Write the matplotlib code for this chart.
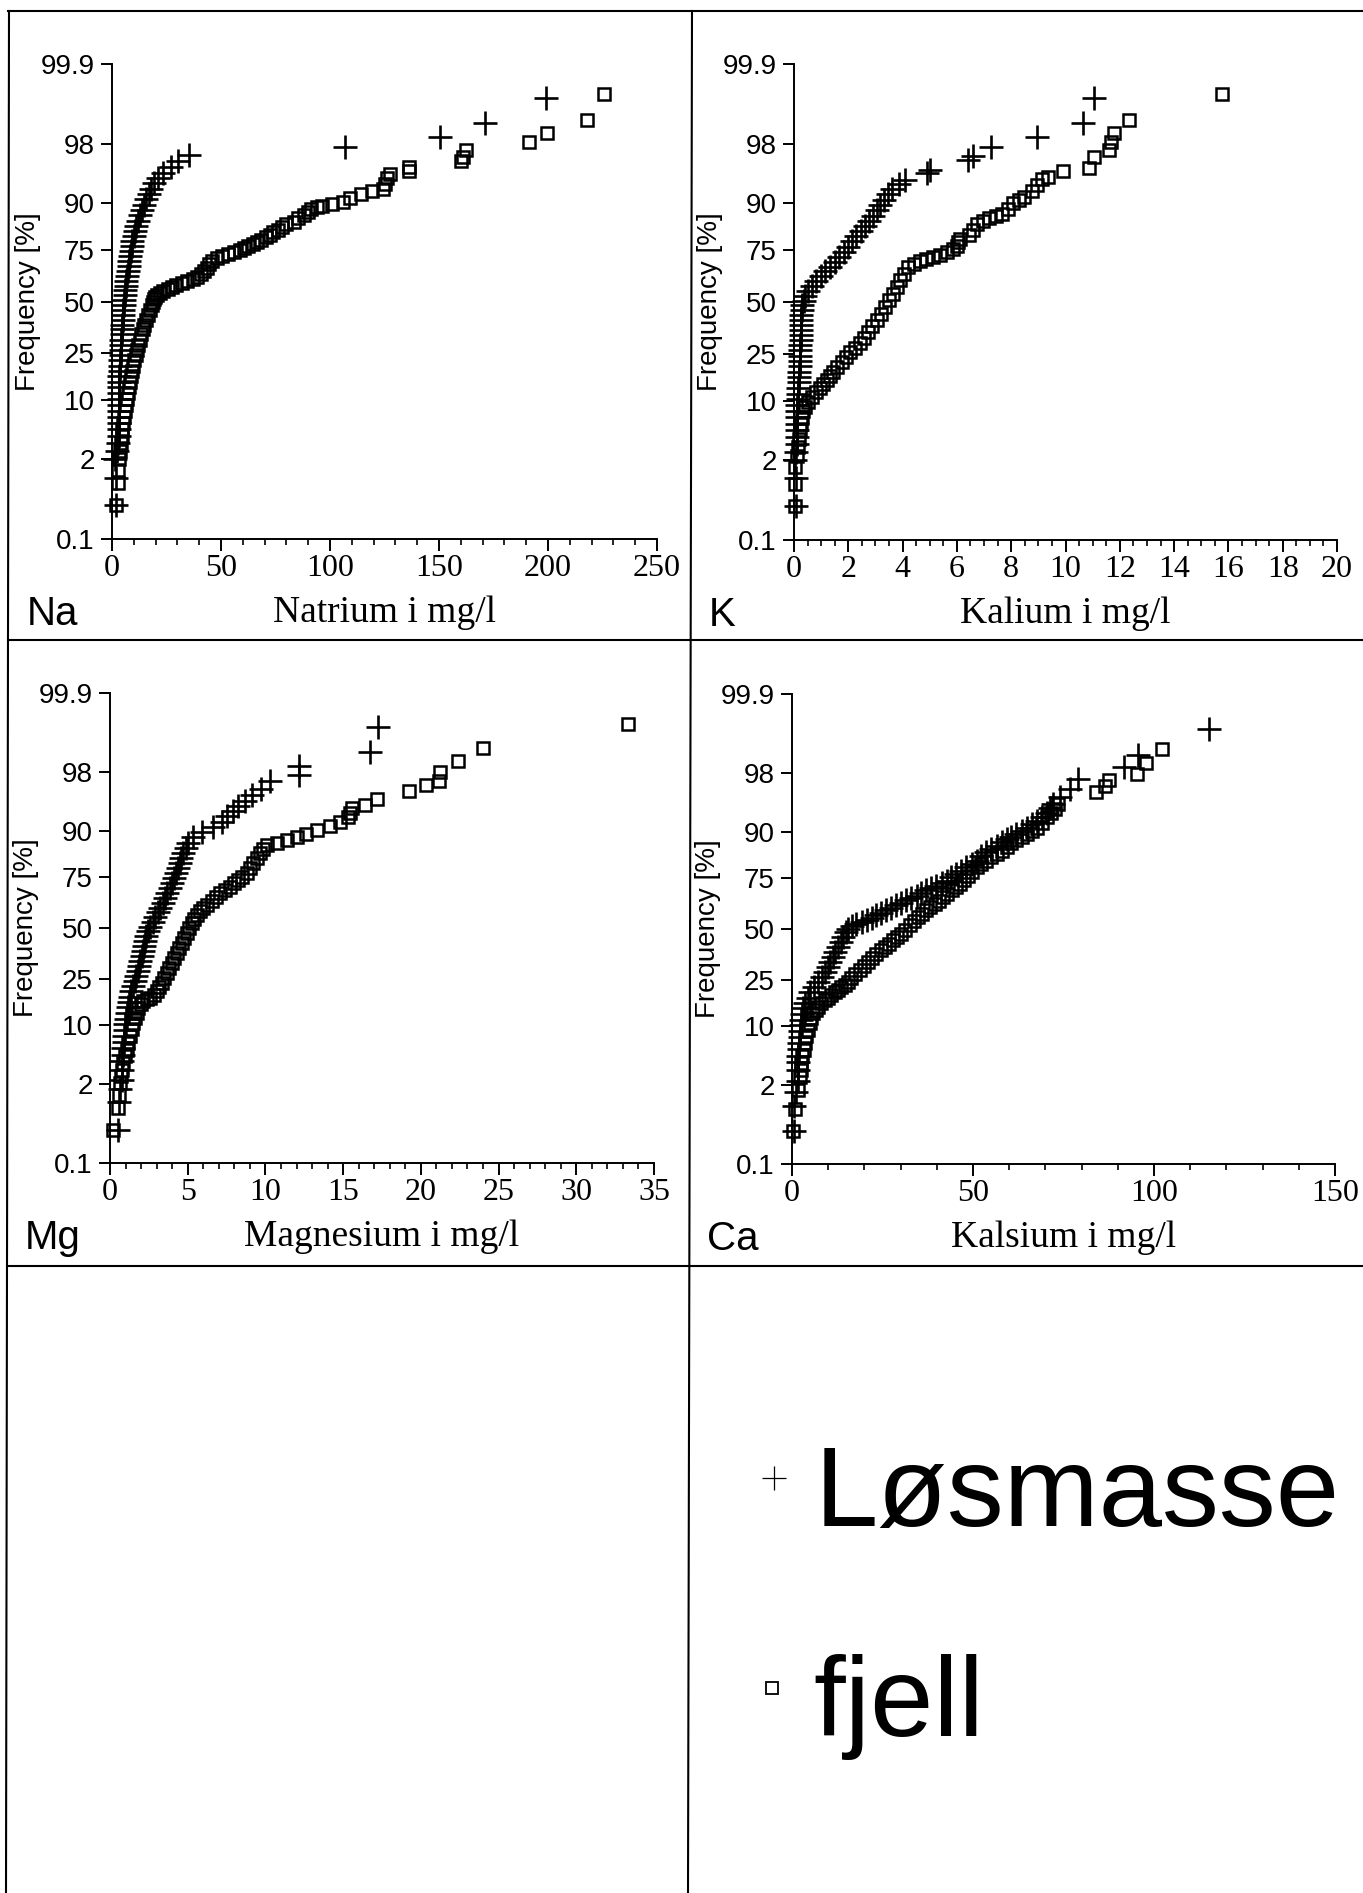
#!/usr/bin/env python3
"""
Normal probability plots of Na, K, Mg and Ca in groundwater,
loose deposits (Løsmasse, +) versus bedrock wells (fjell, squares).
"""

import math
import numpy as np
import matplotlib
matplotlib.use("Agg")
import matplotlib.pyplot as plt
from matplotlib.lines import Line2D
from matplotlib.ticker import FixedLocator, MultipleLocator, NullLocator
from matplotlib.transforms import offset_copy

# ---------------------------------------------------------------- data
# x = concentration (mg/l), p = cumulative frequency (%)

na_los_x = [2.0, 2.0, 1.6, 2.4, 2.8, 3.0, 3.1, 3.1, 3.1, 3.1,
            3.1, 3.2, 3.3, 3.3, 3.3, 3.4, 3.5, 3.6, 3.7, 3.9,
            4.0, 4.1, 4.2, 4.4, 4.5, 4.7, 4.9, 5.0, 5.2, 5.4,
            5.6, 5.9, 6.1, 6.4, 6.6, 6.9, 7.3, 7.7, 7.9, 8.4,
            8.8, 9.0, 9.4, 10.0, 10.6, 11.2, 12.0, 12.8, 13.7, 14.5,
            15.6, 16.8, 17.9, 19.4, 21.2, 23.6, 27.0, 30.5, 35.4,
            107.0, 150.4, 171.3, 199.0]
na_los_p = [0.4, 1.1, 2.0, 2.6, 3.3, 4.0, 4.8, 5.7, 6.7, 7.8,
            9.0, 10.3, 11.7, 13.2, 14.8, 16.5, 18.3, 20.2, 22.2, 24.3,
            26.5, 28.7, 31.0, 33.4, 35.8, 38.2, 40.7, 43.2, 45.7, 48.2,
            50.7, 53.2, 55.7, 58.2, 60.6, 63.0, 65.4, 67.7, 70.0, 72.2,
            74.3, 76.4, 78.4, 80.3, 82.1, 83.8, 85.4, 86.9, 88.3, 89.6,
            90.8, 91.9, 92.9, 93.8, 94.6, 95.3, 96.0, 96.6, 97.2,
            97.8, 98.4, 99.0, 99.6]

na_fje_x = [1.7, 2.8, 2.8, 3.3, 3.7, 4.0, 4.4, 4.8, 5.2, 5.6,
            6.0, 6.3, 6.7, 7.2, 7.7, 8.2, 8.7, 9.2, 9.8, 10.3,
            10.9, 11.6, 12.1, 12.8, 13.5, 14.2, 14.9, 15.8, 16.6, 17.4,
            18.3, 19.0, 19.3, 19.8, 20.6, 21.8, 23.4, 25.5, 27.3, 29.5,
            32.0, 34.5, 37.0, 39.0, 40.8, 42.0, 43.4, 44.5, 45.8, 48.0,
            50.5, 53.0, 55.8, 58.5, 60.5, 62.5, 64.5, 66.5, 68.5, 70.8,
            72.5, 74.0, 76.0, 78.0, 80.0, 83.5, 85.5, 88.0, 90.0, 91.5,
            94.0, 96.5, 101.0, 106.0, 109.0, 114.0, 119.2, 124.2, 125.0, 126.0,
            127.5, 136.3, 136.3, 160.0, 161.2, 162.6, 191.5, 199.5, 217.7, 225.8]
na_fje_p = [0.4, 0.9, 1.4, 2.0, 2.6, 3.3, 4.0, 4.8, 5.7, 6.7,
            7.8, 9.0, 10.3, 11.7, 13.2, 14.8, 16.5, 18.3, 20.2, 22.2,
            24.3, 26.5, 28.7, 31.0, 33.4, 35.8, 38.2, 40.7, 43.2, 45.7,
            48.2, 50.0, 51.5, 52.5, 53.5, 54.5, 55.5, 56.5, 57.5, 58.5,
            59.5, 60.5, 61.5, 62.5, 64.0, 65.5, 67.0, 68.5, 70.0, 71.3,
            72.3, 73.2, 74.0, 74.8, 75.6, 76.4, 77.2, 78.0, 78.9, 79.8,
            80.7, 81.6, 82.5, 83.4, 84.2, 85.0, 86.0, 86.9, 87.7, 88.5,
            89.0, 89.4, 89.7, 90.3, 91.1, 91.9, 92.4, 92.9, 93.7, 94.6,
            95.2, 95.5, 96.0, 96.6, 97.0, 97.6, 98.1, 98.6, 99.1, 99.65]

k_los_x = [0.06, 0.06, 0.03, 0.08, 0.10, 0.10, 0.10, 0.11, 0.12, 0.12,
           0.12, 0.13, 0.15, 0.16, 0.17, 0.18, 0.19, 0.21, 0.22, 0.22,
           0.22, 0.23, 0.24, 0.24, 0.25, 0.26, 0.27, 0.27, 0.28, 0.30,
           0.35, 0.42, 0.52, 0.66, 0.80, 0.98, 1.15, 1.32, 1.50, 1.66,
           1.83, 1.98, 2.15, 2.30, 2.45, 2.60, 2.78, 2.92, 3.05, 3.18,
           3.33, 3.48, 3.62, 3.85, 4.10, 4.90, 5.00, 6.40, 6.60, 7.27,
           8.95, 10.65, 11.05]
k_los_p = [0.4, 1.1, 2.0, 2.6, 3.3, 4.0, 4.8, 5.7, 6.7, 7.8,
           9.0, 10.3, 11.7, 13.2, 14.8, 16.5, 18.3, 20.2, 22.2, 24.3,
           26.5, 28.7, 31.0, 33.4, 35.8, 38.2, 40.7, 43.2, 45.7, 48.2,
           50.7, 53.2, 55.7, 58.2, 60.6, 63.0, 65.4, 67.7, 70.0, 72.2,
           74.3, 76.4, 78.4, 80.3, 82.1, 83.8, 85.4, 86.9, 88.3, 89.6,
           90.8, 91.9, 92.9, 93.8, 94.3, 95.3, 95.7, 96.7, 97.1, 97.8,
           98.4, 99.0, 99.6]

k_fje_x = [0.02, 0.03, 0.03, 0.10, 0.16, 0.19, 0.22, 0.25, 0.28, 0.34,
           0.40, 0.52, 0.65, 0.80, 0.96, 1.08, 1.20, 1.32, 1.45, 1.60,
           1.75, 1.90, 2.06, 2.25, 2.43, 2.58, 2.74, 2.89, 3.04, 3.20,
           3.35, 3.50, 3.66, 3.78, 3.90, 4.05, 4.21, 4.42, 4.64, 4.88,
           5.13, 5.38, 5.62, 5.85, 6.00, 6.05, 6.10, 6.45, 6.60, 6.75,
           6.95, 7.19, 7.45, 7.67, 7.87, 8.07, 8.27, 8.47, 8.75, 8.95,
           9.12, 9.36, 9.92, 10.88, 11.05, 11.60, 11.69, 11.77, 12.33, 15.78]
k_fje_p = [0.4, 0.9, 1.6, 2.3, 3.0, 3.8, 4.8, 5.7, 6.7, 7.8,
           8.7, 9.8, 10.9, 12.0, 13.1, 14.3, 15.5, 16.8, 18.2, 20.0,
           21.9, 23.9, 25.9, 27.7, 29.5, 32.2, 34.9, 37.7, 40.6, 43.9,
           47.4, 50.8, 54.3, 57.6, 61.0, 64.2, 67.5, 69.0, 70.5, 71.3,
           72.0, 73.0, 74.1, 75.4, 76.8, 78.2, 79.5, 80.7, 82.5, 84.4,
           85.3, 86.2, 86.8, 87.4, 88.7, 90.0, 90.7, 91.3, 92.5, 93.6,
           94.5, 94.8, 95.5, 95.9, 97.0, 97.6, 98.1, 98.6, 99.1, 99.65]

mg_los_x = [0.54, 0.56, 0.64, 0.75, 0.75, 0.79, 0.83, 0.86, 0.88, 0.90,
            0.94, 0.97, 1.04, 1.10, 1.16, 1.23, 1.30, 1.38, 1.46, 1.58,
            1.68, 1.78, 1.87, 1.96, 2.05, 2.10, 2.17, 2.25, 2.34, 2.46,
            2.60, 2.75, 2.90, 3.07, 3.22, 3.38, 3.53, 3.68, 3.83, 3.98,
            4.14, 4.25, 4.38, 4.50, 4.60, 4.72, 4.87, 5.05, 5.35, 5.90,
            6.60, 7.20, 7.55, 7.90, 8.25, 8.70, 9.15, 9.70, 10.29, 12.17,
            12.17, 16.76, 17.25]
mg_los_p = [0.4, 1.1, 1.7, 2.3, 3.1, 4.0, 4.8, 5.7, 6.7, 7.8,
            9.0, 10.3, 11.7, 13.2, 14.8, 16.5, 18.3, 20.2, 22.2, 24.3,
            26.5, 28.7, 31.0, 33.4, 35.8, 38.2, 40.7, 43.2, 45.7, 48.2,
            50.7, 53.2, 55.7, 58.2, 60.6, 63.0, 65.4, 67.7, 70.0, 72.2,
            74.3, 76.4, 78.4, 80.3, 82.1, 83.8, 85.4, 86.9, 88.3, 89.6,
            90.8, 91.9, 92.9, 93.8, 94.6, 95.3, 96.0, 96.6, 97.3, 97.8,
            98.35, 98.97, 99.59]

mg_fje_x = [0.21, 0.54, 0.60, 0.64, 0.70, 0.75, 0.85, 0.96, 1.07, 1.18,
            1.28, 1.39, 1.50, 1.61, 1.72, 1.82, 1.98, 2.14, 2.35, 2.57,
            2.80, 3.00, 3.16, 3.32, 3.48, 3.64, 3.80, 3.96, 4.12, 4.29,
            4.45, 4.61, 4.77, 4.93, 5.09, 5.25, 5.41, 5.57, 5.78, 6.00,
            6.27, 6.54, 6.80, 7.07, 7.40, 7.72, 7.98, 8.25, 8.52, 8.79,
            9.00, 9.22, 9.43, 9.64, 9.85, 10.07, 10.72, 11.36, 12.00, 12.64,
            13.29, 14.15, 14.79, 15.32, 15.45, 15.54, 16.40, 17.15, 19.24, 20.30,
            21.14, 21.20, 22.40, 24.00, 33.30]
mg_fje_p = [0.4, 0.9, 1.4, 2.1, 2.6, 3.1, 3.8, 4.6, 5.5, 6.6,
            7.8, 9.1, 10.5, 11.9, 13.3, 14.7, 15.8, 16.8, 17.4, 17.9,
            19.0, 20.3, 21.9, 23.6, 25.6, 27.8, 30.0, 32.3, 34.7, 37.1,
            39.6, 42.2, 44.8, 47.4, 50.0, 52.6, 54.8, 56.9, 58.6, 60.3,
            62.0, 63.7, 65.7, 67.7, 69.2, 70.7, 72.2, 73.7, 75.0, 76.4,
            78.4, 80.3, 82.0, 83.7, 85.0, 86.3, 86.9, 87.7, 88.5, 89.3,
            90.1, 91.0, 91.9, 92.8, 93.5, 94.2, 94.7, 95.5, 96.4, 97.0,
            97.3, 98.0, 98.6, 99.1, 99.64]

ca_los_x = [0.45, 0.44, 1.00, 1.64, 1.64, 1.64, 1.70, 1.80, 1.92, 2.10,
            2.30, 2.40, 2.50, 2.65, 3.10, 3.60, 4.30, 5.10, 6.20, 7.30,
            8.40, 9.10, 9.90, 10.60, 11.30, 12.00, 12.70, 13.40, 14.10, 14.90,
            15.50, 16.60, 17.80, 19.20, 20.60, 22.00, 23.30, 24.70, 26.10, 27.40,
            28.80, 30.20, 31.60, 33.00, 34.40, 35.70, 37.10, 38.50, 39.90, 41.30,
            42.70, 44.00, 45.40, 46.80, 48.20, 49.60, 51.00, 52.30, 53.70, 55.10,
            56.50, 57.90, 59.30, 60.60, 62.00, 63.40, 64.80, 66.20, 67.60, 69.00,
            70.40, 71.30, 72.20, 74.00, 76.80, 79.10, 91.60, 95.70, 115.30]
ca_los_p = [0.4, 1.0, 1.6, 2.3, 3.2, 4.0, 4.8, 5.7, 6.7, 7.8,
            9.0, 10.3, 11.7, 13.2, 14.8, 16.5, 18.3, 20.2, 22.2, 24.3,
            26.5, 28.7, 31.0, 33.4, 35.8, 38.2, 40.7, 43.2, 45.7, 48.2,
            50.2, 51.5, 52.8, 53.7, 54.5, 55.8, 57.1, 58.4, 59.7, 61.0,
            62.2, 63.6, 65.0, 66.0, 67.0, 68.2, 69.4, 70.5, 71.6, 72.7,
            73.8, 75.2, 76.6, 77.9, 79.2, 80.4, 81.6, 83.0, 84.4, 85.4,
            86.3, 87.3, 88.2, 88.8, 89.4, 90.2, 90.9, 91.6, 92.3, 93.0,
            93.7, 94.4, 95.0, 95.9, 96.7, 97.6, 98.35, 98.9, 99.58]

ca_fje_x = [0.26, 0.72, 1.64, 2.10, 2.35, 2.60, 2.90, 3.20, 3.55, 3.90,
            4.40, 4.90, 5.35, 5.80, 6.50, 7.20, 8.10, 9.00, 9.95, 10.90,
            11.80, 12.70, 13.60, 14.60, 15.50, 16.40, 17.50, 18.70, 19.80, 21.00,
            22.20, 23.30, 24.50, 25.60, 26.70, 27.90, 29.00, 30.20, 31.30, 32.50,
            33.60, 34.80, 35.90, 37.10, 38.20, 39.40, 40.60, 41.80, 42.90, 44.10,
            45.20, 46.40, 47.50, 48.70, 49.80, 51.00, 52.30, 53.70, 55.10, 56.50,
            57.90, 59.30, 60.60, 62.00, 63.40, 64.80, 66.20, 67.60, 69.00, 70.40,
            71.50, 72.70, 73.60, 84.00, 86.40, 87.60, 95.40, 97.80, 102.30]
ca_fje_p = [0.4, 0.9, 1.7, 2.6, 3.2, 3.9, 4.7, 5.6, 6.7, 7.9,
            9.2, 10.7, 12.0, 13.4, 14.4, 15.4, 16.5, 17.5, 18.3, 19.2,
            20.2, 21.2, 22.1, 23.0, 24.4, 25.8, 27.6, 29.4, 31.3, 33.3,
            35.3, 37.3, 39.0, 40.7, 42.4, 44.1, 45.8, 47.6, 49.7, 51.9,
            54.0, 56.2, 57.9, 59.7, 61.3, 63.0, 64.6, 66.3, 67.8, 69.4,
            70.9, 72.4, 74.1, 75.8, 77.4, 79.1, 80.4, 81.6, 82.7, 83.8,
            84.9, 86.0, 87.0, 87.9, 88.6, 89.4, 90.2, 90.9, 91.9, 92.9,
            93.6, 94.2, 95.0, 96.45, 97.0, 97.5, 97.9, 98.56, 99.1]

prob_ticks = [0.1, 2, 10, 25, 50, 75, 90, 98, 99.9]
prob_labels = ["0.1", "2", "10", "25", "50", "75", "90", "98", "99.9"]

legend_labels = ["Løsmasse", "fjell"]

# ---------------------------------------------------------------- style
W, H = 1363, 1893
SANS = ["Liberation Sans", "DejaVu Sans"]
SERIF = ["Liberation Serif", "DejaVu Serif"]


# Acklam's rational approximation of the inverse normal CDF
_A = [-3.969683028665376e+01, 2.209460984245205e+02, -2.759285104469687e+02,
      1.383577518672690e+02, -3.066479806614716e+01, 2.506628277459239e+00]
_B = [-5.447609879822406e+01, 1.615858368580409e+02, -1.556989798598866e+02,
      6.680131188771972e+01, -1.328068155288572e+01]
_C = [-7.784894002430293e-03, -3.223964580411365e-01, -2.400758277161838e+00,
      -2.549671348283447e+00, 4.374664141464968e+00, 2.938163982698783e+00]
_D = [7.784695709041462e-03, 3.224671290700398e-01, 2.445134137142996e+00,
      3.754408661907416e+00]


def norm_ppf(q):
    q = np.asarray(q, dtype=float)
    flat = q.ravel()
    out = np.empty_like(flat)
    lo = flat < 0.02425
    hi = flat > 1 - 0.02425
    mid = ~(lo | hi)

    t = np.sqrt(-2 * np.log(flat[lo]))
    out[lo] = ((((((_C[0]*t + _C[1])*t + _C[2])*t + _C[3])*t + _C[4])*t + _C[5])
               / ((((_D[0]*t + _D[1])*t + _D[2])*t + _D[3])*t + 1))
    t = np.sqrt(-2 * np.log(1 - flat[hi]))
    out[hi] = -((((((_C[0]*t + _C[1])*t + _C[2])*t + _C[3])*t + _C[4])*t + _C[5])
                / ((((_D[0]*t + _D[1])*t + _D[2])*t + _D[3])*t + 1))
    r = flat[mid] - 0.5
    s = r * r
    out[mid] = ((((((_A[0]*s + _A[1])*s + _A[2])*s + _A[3])*s + _A[4])*s + _A[5]) * r
                / (((((_B[0]*s + _B[1])*s + _B[2])*s + _B[3])*s + _B[4])*s + 1))
    return out.reshape(q.shape)


_erfc = np.vectorize(math.erfc)


def prob_forward(p):
    p = np.clip(np.asarray(p, dtype=float) / 100.0, 1e-7, 1 - 1e-7)
    return norm_ppf(p)


def prob_inverse(z):
    z = np.asarray(z, dtype=float)
    return 100.0 * 0.5 * _erfc(-z / math.sqrt(2.0))


def px_to_fig(x, y):
    return x / W, 1 - y / H


def make_panel(fig, box, xmax, xmajor, xminor, xticks, xlabel, letter,
               los_x, los_p, fje_x, fje_p):
    left, top, right, bottom = box
    l, b = px_to_fig(left, bottom)
    ax = fig.add_axes([l, b, (right - left) / W, (bottom - top) / H])

    ax.plot(fje_x, fje_p, linestyle="none", marker="s", ms=9, mfc="none",
            mec="black", mew=1.8, clip_on=False, zorder=3)
    ax.plot(los_x, los_p, linestyle="none", marker="+", ms=17,
            mec="black", mew=1.9, clip_on=False, zorder=4)

    ax.set_yscale("function", functions=(prob_forward, prob_inverse))
    ax.set_ylim(0.1, 99.9)
    ax.set_xlim(0, xmax)

    ax.yaxis.set_major_locator(FixedLocator(prob_ticks))
    ax.yaxis.set_minor_locator(NullLocator())
    ax.set_yticklabels(prob_labels, fontfamily=SANS, fontsize=20)

    ax.xaxis.set_major_locator(MultipleLocator(xmajor))
    ax.xaxis.set_minor_locator(MultipleLocator(xminor))
    ax.set_xticks(xticks)
    ax.set_xticklabels([f"{t:g}" for t in xticks], fontfamily=SERIF, fontsize=23)

    for side in ("top", "right"):
        ax.spines[side].set_visible(False)
    for side in ("left", "bottom"):
        ax.spines[side].set_linewidth(1.4)

    ax.tick_params(axis="y", which="major", direction="out", length=8,
                   width=1.4, pad=4.5)
    ax.tick_params(axis="x", which="major", direction="out", length=8.5,
                   width=1.4, pad=2)
    ax.tick_params(axis="x", which="minor", direction="out", length=4.5,
                   width=1.2)
    ax.patch.set_alpha(0)

    # labels placed with pixel offsets from the axes corner
    tr = offset_copy(ax.transAxes, fig=fig, x=-84, y=0, units="dots")
    ax.text(0, 0.5, "Frequency [%]", transform=tr, rotation=90,
            ha="center", va="center", fontsize=20, family=SANS)
    tr = offset_copy(ax.transAxes, fig=fig, x=0, y=-83, units="dots")
    ax.text(0.5, 0, xlabel, transform=tr, ha="center", va="baseline",
            fontsize=27, family=SERIF)
    tr = offset_copy(ax.transAxes, fig=fig, x=-85, y=-86, units="dots")
    ax.text(0, 0, letter, transform=tr, ha="left", va="baseline",
            fontsize=29, family=SANS)
    return ax


fig = plt.figure(figsize=(W / 100, H / 100), dpi=100)
fig.patch.set_facecolor("white")

# panel boxes in pixels: left, top (99.9 %), right (x max), bottom (0.1 %)
make_panel(fig, (112, 64, 657, 539), 250, 50, 10, [0, 50, 100, 150, 200, 250],
           "Natrium i mg/l", "Na", na_los_x, na_los_p, na_fje_x, na_fje_p)
make_panel(fig, (794, 64, 1337, 540), 20, 2, 0.5, list(range(0, 21, 2)),
           "Kalium i mg/l", "K", k_los_x, k_los_p, k_fje_x, k_fje_p)
make_panel(fig, (110, 693, 654, 1163), 35, 5, 1, list(range(0, 36, 5)),
           "Magnesium i mg/l", "Mg", mg_los_x, mg_los_p, mg_fje_x, mg_fje_p)
make_panel(fig, (792, 694, 1335, 1164), 150, 50, 10, [0, 50, 100, 150],
           "Kalsium i mg/l", "Ca", ca_los_x, ca_los_p, ca_fje_x, ca_fje_p)

# frame lines of the page
for x0, y0, x1, y1 in [(8, 11, W, 11), (8, 640, W, 640), (8, 1266, W, 1266),
                       (9, 11, 6, H), (692, 11, 688, H)]:
    fx0, fy0 = px_to_fig(x0, y0)
    fx1, fy1 = px_to_fig(x1, y1)
    fig.add_artist(Line2D([fx0, fx1], [fy0, fy1], color="black", lw=1.5,
                          transform=fig.transFigure))

# legend in the lower right cell
for (mx, my), (tx, ty), marker, label in [((774, 1478), (815, 1526), "+", legend_labels[0]),
                                          ((772, 1688), (813, 1736), "s", legend_labels[1])]:
    fx, fy = px_to_fig(mx, my)
    if marker == "+":
        fig.add_artist(Line2D([fx], [fy], marker="+", ms=17, mew=0.9, color="black",
                              linestyle="none", transform=fig.transFigure))
    else:
        fig.add_artist(Line2D([fx], [fy], marker="s", ms=8, mew=1.3, mfc="none",
                              mec="black", linestyle="none", transform=fig.transFigure))
    fx, fy = px_to_fig(tx, ty)
    fig.text(fx, fy, label, ha="left", va="baseline", fontsize=82, family=SANS)

fig.savefig("out.png", dpi=100, facecolor="white")
print("saved out.png")
